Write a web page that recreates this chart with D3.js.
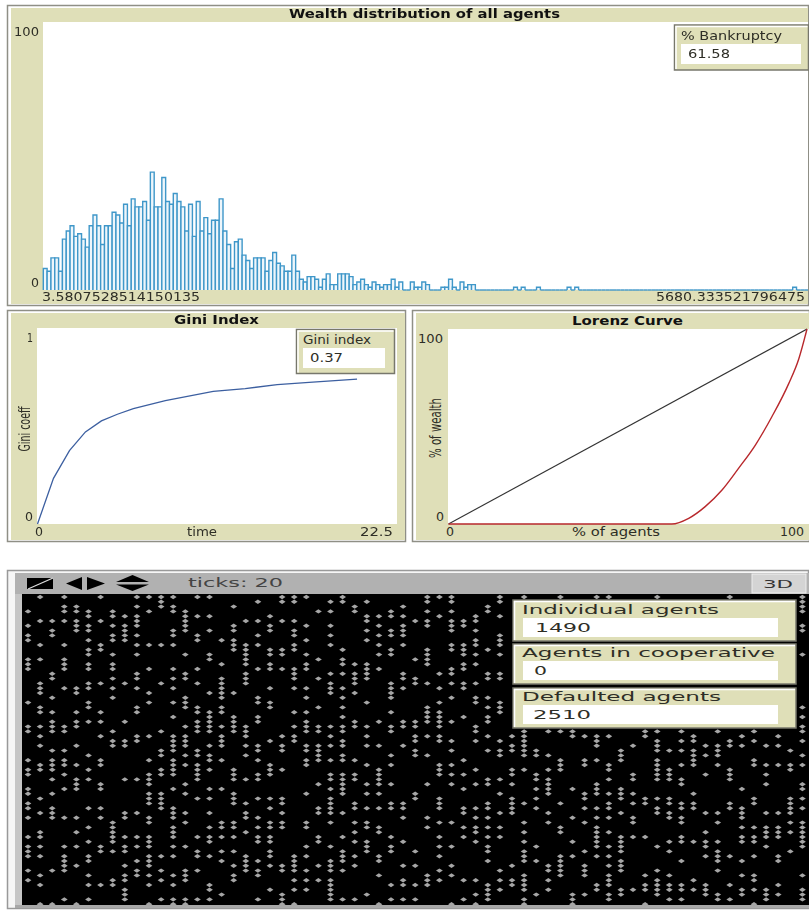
<!DOCTYPE html>
<html>
<head>
<meta charset="utf-8">
<script src="https://cdn.jsdelivr.net/npm/d3@7"></script>
<style>
html, body { margin:0; padding:0; background:#fff; overflow:hidden; }
svg { display:block; filter:blur(0.5px); }
text { font-family:"DejaVu Sans", sans-serif; dominant-baseline:central; }
.agents { filter:blur(0.6px); }
</style>
</head>
<body>
<div class="world"></div>
<script>
// histogram counts, one per bin
const wealthBins = [8,7,12,12,7,19,22,24,20,21,19,16,24,28,24,17,24,24,29,28,25,32,24,34,31,31,33,26,44,31,
  31,42,33,32,36,33,31,22,32,20,33,22,27,21,26,26,34,22,17,8,18,19,13,11,8,12,12,12,7,11,
  14,10,9,7,7,13,7,4,3,5,5,4,1,4,6,2,2,6,6,6,5,2,3,4,2,1,3,2,1,2,2,4,1,3,0,0,3,1,1,3,
  2,0,0,0,1,1,4,1,0,3,1,2,2,0,0,0,0,0,0,0,0,0,0,1,0,1,0,0,0,1,0,0,0,0,0,0,0,1,0,1,
  0,0,0,0,0,0,0,0,0,0,0,0,0,0,0,0,0,0,0,0,0,0,0,0,0,0,0,0,0,0,0,0,0,0,0,0,0,0,0,0,
  0,0,0,0,0,0,0,0,0,0,0,0,0,0,0,0,1,0,0,0]

// gini over time
const giniTime = [0,1,2,3,4,5,6,8,11,13,15,17,20]
const giniValue = [0,.233,.374,.47,.526,.56,.589,.63,.677,.691,.711,.723,.739]

// lorenz curve
const lorenzAgents = [0,62.3,67,71.6,76.3,80.9,85.6,90.2,94.9,97.7,100]
const lorenzWealth = [0,0,2.9,8.9,17.4,28.5,40.5,55,72,84.6,100]
const equalLine = [0,100]

// occupied rows of each world column, "a-b" is a stack of agents
const agentColumns = [
"3,6,8-9,13-15,22,27-28,34,36-37,40-41,43-44,46,50,52-54,57,59",
"0,5,10,13,18-20,23-24,27,29,31,35-36,42,45,49-50,52,54,58,60,64",
"5,7-8,16-17,21,24,26-28,32,34-36,38,41,44-46,57,64",
"0,2-3,5,10,13-15,19,27-28,32,34-35,37,40,46,52,54-57,63",
"2-3,5-7,19-20,24,26-27,31,35,38-40,46,49,52,56,64",
"3-4,6-7,9,11-12,14-15,18-19,22-23,26,33,36,38,44,48,51,54-55,58,60,63",
"0,5,10-11,18,24,26,29,34-35,39-40,44,46,52-53,60",
"3-4,6,8-9,12,14-15,17,19,21,28,30-31,47-51,53,59-60",
"4,6-9,18,26,30-31,38,45-46,50,52-53,56,58-59,61-63",
"0,2,4-6,8,10,12,16-17,19,23-24,29-30,38,45,50,52,55,57-58",
"0,3,10,15,20,22,29,34,37-39,41-43,46-47,50-52,54-56,58,60,64",
"0-2,10,18,28,32-33,36-37,41-44,54,57,59,63",
"0,2-3,7-8,10,15,17,19,22,25,29-32,34-37,40,44-46,48-50,52,54,58,60,63-64",
"3-7,12,16-17,21-23,27,29-31,33,35,39,41,45,47,52,57-59,63-64",
"0,4,8-9,15,18,23-24,26-28,32-33,35-38,42,50,53-54,57,63",
"0,4,7,12-13,20,24-28,31,33-34,36,40,42,45,48,50-51,54,60-61,63",
"9,14,17-21,23-24,27,29-31,34,40,47-48,50,53,55,62",
"2,6-7,9-11,20,25-28,36-38,41-43,47-48,50,53,56,58-59",
"5,10-14,16-18,27-29,31,33,38,43,45-46,49,54-57",
"1,5,8,10,15,21-22,25-26,31-32,34,37-38,42,46,48,50-51,55,57-58,63",
"4,6-7,11-12,14-15,19,22-23,30,35-37,42,44,47-48,50-51,53-54,56,61",
"0-1,5,11-12,15,29,31-32,36,42-43,45,47-48,56-57,62-64",
"0-1,5,7-8,10-11,15-17,19,24,27,29-30,54-57,59,61,64",
"0,6,9,12,14-15,19,21,24,26-28,31-32,34-35,41,47-48,52,54,57,59,61",
"3,13,17,23,27-28,31-34,39,44-45,50-51,56,59",
"1,3,6,8,10,16,18-20,27,29,31,34,37-38,40,42-45,47,52,55-57,59-63",
"0-1,11,13-14,16,19,21,23,25,27-28,30-31,33-34,37-41,45,50,53-55,57,63",
"2-3,14,16-18,20,26-27,34,37-38,43-44,47,49,51,54,56,63",
"1,4-5,7,9,14-17,22,27,29,31,35,39,41,44,47-48,51-53,62",
"4,6,8,10,12,15,26,31,36-39,41,44,48-49,54-55,58,64",
"3-4,7-8,11-12,18-21,24,27-28,33,35,39,43-44,50,52-53,60,63",
"2,4,6-8,10,16-17,19,26-27,31,43-44,46,51,56,59-60,63",
"5,13,17-18,26-27,29-30,32-33,41-42,53,56,60,63",
"0-1,3,5-6,11-14,18,23-26,29,33,39,46,48,58-60",
"0,4,16,19,22,24-27,29-30,35-37,42-44,47,50,52,54,57,59",
"0-1,3,5-7,10-11,15-16,18,21,26,30,32,35,37,39,47,52,56,58,64",
"5-6,10-12,14-15,18-19,25,34,37,40,44-45,48,50,59,63",
"4-5,7,9-10,12,14,18,21-22,27-28,30,36,39,44,46,48-49,51,59,62,64",
"2-3,11,16-17,21,23,25-26,29,32,38-39,43-44,46,48,50,52-53,55,60-63",
"0-1,4,8-10,12,16-17,22-24,30,32-33,38,41,45,48,50,57,59,61",
"29,31-32,36-37,39,42-45,56,59-60",
"0,28-33,36,43,47,49,51,53-55,58-61,63-64",
"32-33,37-38,40,42,44,52,55,62",
"28,33,36,38-41,45,47,56-57,59,61",
"0,28,34-36,43,48-49,54-58",
"28-29,40,46,51,54,62-64",
"29,34-35,41-42,44,47,53,56-58,62",
"0,29-31,34,39-41,44,46,48-52,54,60-61",
"0,29,35-36,38,41,43-44,46,49,52,54,56,58-60,62-63",
"32-34,40-42,45,50-53,55-57,61-62",
"31,37-38,41,43,46-47,50,61",
"28-29,42-43,50,58,60-61,64",
"0,28,30-32,34-38,42,44-45,52,57,59-62",
"32,36-38,42-43,45-46,51,53,58,60-61,63",
"28,30,32,35,38-39,43-44,46-47,50-51,55,60-61,63",
"29-30,32-35,41,43-44,51,59,61",
"31,33,37,45,49,51-52,54,60-62",
"28,31-33,35,45,47,51,53-55,57,62-63",
"0,30-31,36-38,43-44,54,60,63",
"29,31,40,44-46,48,50-51,55,58,61-62",
"28,30,34-35,42-43,48,50-51,54,58-59,61,64",
"31,35,37,39,45,48-50,52,61-63",
"29,31,35,45,48-50,54-55,60,62",
"32,35-36,42-45,47,49,53",
"0-3,6-7,12,23,25,27-28,30,33,35,39-40,42,44,47-52,58,61-63"
]

const khaki = "#dfdfb8"
const frame = "#8f8f86"

const svg = d3.select(".world").append("svg").attr("width",809).attr("height",910)

// text centred on y, squeezed or stretched to the width it has in the picture
function label(g, txt, x, y, w, size, opts) {
    opts = opts || {}
    return g.append("text").attr("x",x).attr("y",y).text(txt)
            .attr("textLength",w).attr("lengthAdjust","spacingAndGlyphs")
            .attr("font-size",size).attr("font-weight",opts.bold ? "bold" : "normal")
            .attr("fill",opts.fill || "#2e2e26")
}

function rotatedLabel(g, txt, x, y, w, size) {
    g.append("text").attr("transform",`translate(${x},${y}) rotate(-90)`).text(txt)
     .attr("textLength",w).attr("lengthAdjust","spacingAndGlyphs").attr("text-anchor","middle")
     .attr("font-size",size).attr("fill","#2e2e26")
}

function panel(x, y, w, h) {
    svg.append("rect").attr("x",x+.5).attr("y",y+.5).attr("width",w).attr("height",h)
       .attr("fill","#fff").attr("stroke",frame).attr("stroke-width",1.5)
    svg.append("rect").attr("x",x+4).attr("y",y+3).attr("width",w-4).attr("height",h-4).attr("fill",khaki)
}

function plotArea(x0, x1, y0, y1) {
    svg.append("rect").attr("x",x0).attr("y",y0).attr("width",x1-x0).attr("height",y1-y0).attr("fill","#fff")
}

function monitor(x, y, w, h, fx, fw, fy, fh, name, nameX, nameW, val, valX, valW) {
    const g = svg.append("g")
    g.append("rect").attr("x",x).attr("y",y).attr("width",w).attr("height",h)
     .attr("fill",khaki).attr("stroke","#77776c").attr("stroke-width",1.5)
    g.append("path").attr("d",`M${x+1.5},${y+h-1}V${y+1.5}H${x+w-1}`).attr("fill","none").attr("stroke","#fff").attr("stroke-width",1.5)
    g.append("rect").attr("x",fx).attr("y",fy).attr("width",fw).attr("height",fh).attr("fill","#fff")
    label(g,name,nameX,fy-8.5,nameW,12)
    label(g,val,valX,fy+fh/2,valW,12)
}

// ---- wealth histogram
panel(7,5,801,300)
plotArea(43,808,22,290)
label(svg,"Wealth distribution of all agents",289,14,271,12,{bold:true,fill:"#111"})
const xBin = d3.scaleLinear().domain([0,wealthBins.length]).range([43.3,808])
const yBin = d3.scaleLinear().domain([0,100]).range([290,22])
// paths and not rects, an empty bin still has to show on the baseline
svg.append("g").selectAll("path").data(wealthBins).enter().append("path")
   .attr("d",(d,i)=>`M${xBin(i)},${yBin(0)}V${yBin(d)}H${xBin(i+1)}V${yBin(0)}`)
   .attr("fill","#eef6fb").attr("stroke","#3f97c9").attr("stroke-width",1.4)
label(svg,"100",14,32,25,12)
label(svg,"0",31,283,8,12)
label(svg,"3.58075285141 50135".replace(" ",""),42,297,158,12)
label(svg,"5680.333521796475",656,297,149,12)
monitor(674.5,25,134,45,681,120,44,20,"% Bankruptcy",681,101,"61.58",688,42)

// ---- gini
panel(7,310,398,231)
plotArea(37,397,328,524)
label(svg,"Gini Index",174,320,85,12,{bold:true,fill:"#111"})
const xGini = d3.scaleLinear().domain([0,22.5]).range([37.5,397])
const yGini = d3.scaleLinear().domain([0,1]).range([524,328])
const giniLine = d3.line().x(d=>xGini(d[0])).y(d=>yGini(d[1]))
svg.append("path").datum(d3.zip(giniTime,giniValue)).attr("d",giniLine)
   .attr("fill","none").attr("stroke","#3c5fa0").attr("stroke-width",1.3)
label(svg,"1",27,338,6,12)
label(svg,"0",25,517,8,12)
label(svg,"0",35,532,8,12)
label(svg,"time",187,532,30,12)
label(svg,"22.5",360,532,33,12)
rotatedLabel(svg,"Gini coeff",24,429,45,16)
monitor(296.5,329.5,98,44,303,82,348,20,"Gini index",303,68,"0.37",310,33)

// ---- lorenz
panel(412,310,397,231)
plotArea(448,809,329,524)
label(svg,"Lorenz Curve",572,321,111,12,{bold:true,fill:"#111"})
const xLorenz = d3.scaleLinear().domain([0,100]).range([448.5,807])
const yLorenz = d3.scaleLinear().domain([0,100]).range([524,329])
const lorenzLine = d3.line().x(d=>xLorenz(d[0])).y(d=>yLorenz(d[1]))
svg.append("path").datum(d3.zip(equalLine,equalLine)).attr("d",lorenzLine)
   .attr("fill","none").attr("stroke","#333").attr("stroke-width",1.1)
svg.append("path").datum(d3.zip(lorenzAgents,lorenzWealth)).attr("d",lorenzLine.curve(d3.curveMonotoneX))
   .attr("fill","none").attr("stroke","#b8282c").attr("stroke-width",1.4)
label(svg,"100",418,339,25,12)
label(svg,"0",436,517,8,12)
label(svg,"0",446,532,8,12)
label(svg,"% of agents",572,532,88,12)
label(svg,"100",780,532,24,12)
rotatedLabel(svg,"% of wealth",435,428,60,16)

// ---- world view
svg.append("rect").attr("x",7.5).attr("y",570.5).attr("width",801).attr("height",338)
   .attr("fill","#f6f6f6").attr("stroke","#999").attr("stroke-width",1.5)
svg.append("rect").attr("x",15).attr("y",573).attr("width",794).attr("height",21).attr("fill","#b1b1b1")
svg.append("rect").attr("x",15).attr("y",594).attr("width",7).attr("height",314).attr("fill","#c6c6c6")
svg.append("rect").attr("x",15).attr("y",905).attr("width",794).attr("height",3).attr("fill","#a8a8a8")
svg.append("rect").attr("x",22).attr("y",594).attr("width",787).attr("height",311).attr("fill","#000")

// toolbar icons
svg.append("rect").attr("x",27).attr("y",578).attr("width",26).attr("height",11).attr("fill","#000")
svg.append("path").attr("d","M28,589L53,578").attr("stroke","#ddd").attr("stroke-width",1.3)
svg.append("path").attr("d","M66,583.5L82,577V590Z M87,577L105,583.5L87,590Z M116,582L132.5,575L149,582Z M116,584.5H149L132.5,591Z").attr("fill","#000")
label(svg,"ticks: 20",188,583,95,12,{fill:"#444"})
svg.append("rect").attr("x",752).attr("y",574).attr("width",54).attr("height",19).attr("fill","#d4d4d4").attr("stroke","#eee")
label(svg,"3D",763,584,30,11,{fill:"#333"})

// agents
const xCol = d3.scaleLinear().domain([0,64]).range([28,802.4])
const yRow = d3.scaleLinear().domain([0,64]).range([597,904.2])
const agents = []
agentColumns.forEach((col,c)=>{
    col.split(",").forEach(run=>{
        const ends = run.split("-").map(Number)
        for (let r=ends[0]; r<=ends[ends.length-1]; r++) agents.push([c,r])
    })
})
svg.append("g").attr("class","agents").selectAll("path").data(agents).enter().append("path")
   .attr("transform",d=>`translate(${xCol(d[0])},${yRow(d[1])})`)
   .attr("d","M-3.4,0L0,-2.2L3.4,0L0,2.2Z").attr("fill","#a6a6a6")

monitor(513,600,283,41,523,255,618,19,"Individual agents",522,197,"1490",535,56)
monitor(513,644,283,40,523,255,661,19,"Agents in cooperative",522,253,"0",534,13)
monitor(513,688,283,40,523,255,705,19,"Defaulted agents",522,199,"2510",533,58)
</script>
</body>
</html>
